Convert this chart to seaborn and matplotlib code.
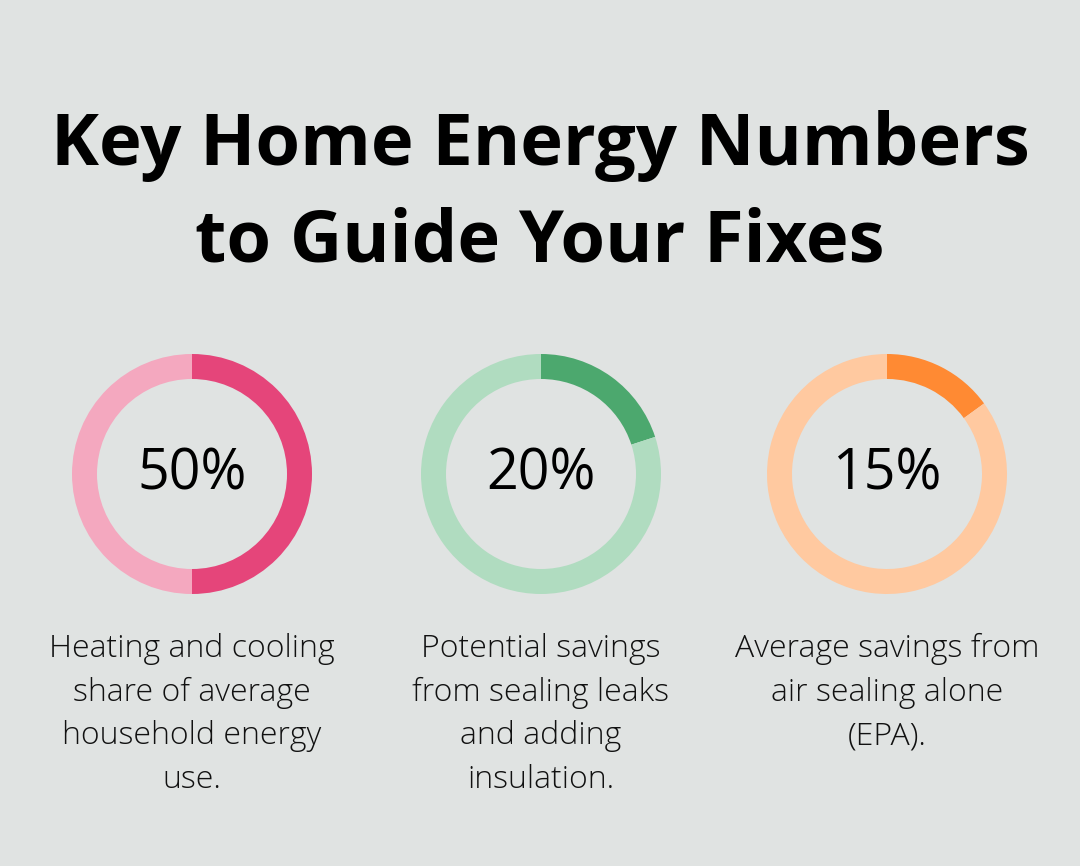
import matplotlib
matplotlib.use("Agg")
import matplotlib.pyplot as plt
import seaborn as sns

sns.set_theme(style="white")
plt.rcParams['font.family'] = ['Open Sans', 'DejaVu Sans']

title_lines = ["Key Home Energy Numbers", "to Guide Your Fixes"]
percent_values = [50, 20, 15]
percent_labels = ["50%", "20%", "15%"]
descriptions = [
    ["Heating and cooling", "share of average", "household energy", "use."],
    ["Potential savings", "from sealing leaks", "and adding", "insulation."],
    ["Average savings from", "air sealing alone", "(EPA)."],
]
dark_colors = ["#E5457A", "#4CA86E", "#FF8A33"]
light_colors = ["#F4A8BF", "#B0DCC0", "#FFC9A0"]
bg = "#E0E3E2"

W, H = 1080, 866
fig = plt.figure(figsize=(W / 100, H / 100), dpi=100, facecolor=bg)

def fy(y):
    return 1 - y / H

for i, line in enumerate(title_lines):
    fig.text(540 / W, fy([165, 262][i]), line, ha="center", va="baseline",
             fontsize=52, fontweight="bold", color="#000000")

centers_x = [192, 541, 887]
cy = 474
r = 120
lim = 1.05
half = r * lim
for i, val in enumerate(percent_values):
    cx = centers_x[i]
    ax = fig.add_axes([(cx - half) / W, (H - cy - half) / H, 2 * half / W, 2 * half / H])
    ax.set_facecolor("none")
    ax.pie([val, 100 - val], colors=[dark_colors[i], light_colors[i]], startangle=90,
           counterclock=False, radius=1.0,
           wedgeprops=dict(width=25 / 120, edgecolor="none", linewidth=0))
    ax.set_xlim(-lim, lim)
    ax.set_ylim(-lim, lim)
    ax.set_aspect("equal")
    ax.axis("off")
    fig.text(cx / W, fy(490), percent_labels[i], ha="center", va="baseline",
             fontsize=40, fontweight="medium", color="#000000")
    for j, line in enumerate(descriptions[i]):
        fig.text(cx / W, fy(657 + 43.7 * j), line, ha="center", va="baseline",
                 fontsize=23, fontweight="light", color="#111111")

fig.savefig("out.png", dpi=100, facecolor=bg)
